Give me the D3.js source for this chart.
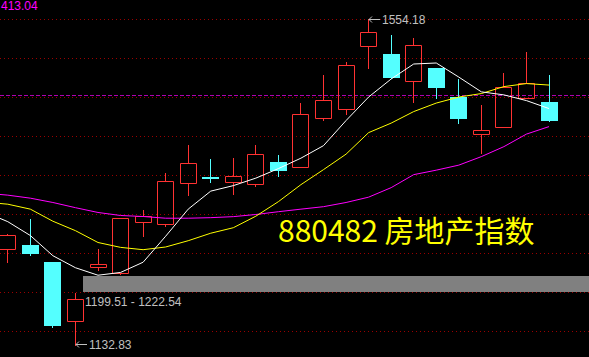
<!DOCTYPE html>
<html>
<head>
<meta charset="utf-8">
<script src="https://cdn.jsdelivr.net/npm/d3@7"></script>
<style>
  html, body { margin: 0; padding: 0; background: #000; }
  svg { display: block; }
</style>
</head>
<body>
<div id="chart"></div>
<script>
// daily candles (left to right)
let opens  = [1257.0, 1262.2, 1240.2, 1163.9, 1234.1, 1226.4, 1292.3, 1289.4, 1342.0, 1350.2, 1343.3, 1340.7, 1369.6,
              1362.7, 1426.9, 1437.8, 1520.0, 1509.3, 1474.8, 1491.6, 1454.0, 1406.2, 1414.5, 1452.8, 1447.2];
let highs  = [1276.4, 1295.8, 1240.2, 1200.1, 1257.0, 1298.0, 1307.5, 1355.3, 1391.6, 1373.5, 1374.7, 1391.6, 1378.6,
              1445.9, 1482.1, 1498.9, 1554.18, 1533.9, 1530.0, 1491.6, 1477.0, 1443.3, 1484.7, 1511.9, 1482.1];
let lows   = [1240.2, 1249.3, 1156.8, 1132.83, 1229.9, 1224.7, 1274.2, 1287.2, 1327.3, 1344.1, 1328.6, 1338.9, 1351.8,
              1362.7, 1424.5, 1432.1, 1491.6, 1478.6, 1447.6, 1452.8, 1420.4, 1381.6, 1414.5, 1452.8, 1422.6];
let closes = [1275.1, 1250.6, 1157.8, 1192.3, 1238.5, 1298.0, 1299.7, 1345.0, 1368.3, 1347.9, 1351.5, 1379.9, 1358.3,
              1431.7, 1449.8, 1495.1, 1537.8, 1478.6, 1520.9, 1464.9, 1425.6, 1411.0, 1466.2, 1471.8, 1422.6];

// moving averages, first value is the day before the first visible candle
let maWhite  = [1304.9, 1292.6, 1274.7, 1248.6, 1233.1, 1223.4, 1227.0, 1240.2, 1273.8, 1308.8, 1332.1, 1339.2, 1348.9,
                1361.2, 1374.7, 1390.9, 1423.3, 1453.7, 1477.0, 1496.4, 1497.7, 1479.5, 1460.4, 1456.5, 1449.1, 1438.8];
let maYellow = [1317.8, 1315.2, 1308.8, 1293.2, 1281.0, 1265.7, 1259.4, 1256.4, 1259.9, 1268.0, 1277.7, 1284.8, 1299.7,
                1318.5, 1340.5, 1359.9, 1379.9, 1407.7, 1420.0, 1434.9, 1445.9, 1453.7, 1458.2, 1467.2, 1471.1, 1469.2];
let maPurple = [1329.5, 1326.9, 1323.0, 1317.4, 1310.7, 1304.5, 1300.6, 1299.3, 1297.1, 1297.1, 1297.8, 1299.1, 1301.9,
                1305.5, 1308.8, 1312.0, 1317.4, 1324.3, 1336.6, 1353.4, 1359.2, 1365.7, 1376.7, 1389.6, 1405.8, 1415.5];

let refLevel = 1456;              // dashed purple level
let band = [1199.51, 1222.54];    // grey price zone
let topValue = '413.04';
let title = '880482 房地产指数';

let width = 589;
let height = 357;
let numFont = '"Liberation Sans", Arial, sans-serif';
let upColor = '#ff3232';
let downColor = '#54ffff';

let svg = d3
    .select('#chart')
    .append('svg')
    .attr('width', width)
    .attr('height', height)
    .style('background', '#000');

let hi = d3.max(highs);
let lo = d3.min(lows);

let xScale = d3.scaleLinear().domain([0, opens.length - 1]).range([7.8, 549]);
let yScale = d3.scaleLinear().domain([lo, hi]).range([345.3, 19.3]);
let px = v => Math.floor(v) + 0.5;

// dotted red grid
let gridY = d3.range(9).map(k => Math.floor(yScale(hi)) + 39 * k + 0.5);
svg.append('g')
    .selectAll('line')
    .data(gridY)
    .enter()
    .append('line')
    .attr('x1', 0)
    .attr('x2', width)
    .attr('y1', d => d)
    .attr('y2', d => d)
    .attr('stroke', '#9a0000')
    .attr('stroke-dasharray', '1,3');

// dashed purple level
svg.append('line')
    .attr('x1', 0)
    .attr('x2', width)
    .attr('y1', px(yScale(refLevel)))
    .attr('y2', px(yScale(refLevel)))
    .attr('stroke', '#b000b0')
    .attr('stroke-dasharray', '4,2');

// grey zone, starting right after the low candle
let lowIdx = lows.indexOf(lo);
let bandLeft = Math.floor(xScale(lowIdx)) + 8;
svg.append('rect')
    .attr('x', bandLeft)
    .attr('y', Math.round(yScale(band[1])))
    .attr('width', width - bandLeft)
    .attr('height', Math.round(yScale(band[0])) - Math.round(yScale(band[1])) - 2)
    .attr('fill', '#808080');

// candles
let candles = opens.map((o, i) => ({ i, o, h: highs[i], l: lows[i], c: closes[i], up: closes[i] >= o }));

let cg = svg.append('g');

candles.forEach(d => {
    let xc = px(xScale(d.i));
    let left = Math.floor(xScale(d.i)) - 8;
    let top = Math.round(yScale(Math.max(d.o, d.c)));
    let bot = Math.round(yScale(Math.min(d.o, d.c)));
    let yh = Math.round(yScale(d.h));
    let yl = Math.round(yScale(d.l));
    if (d.up) {
        // hollow red body: wick above and below, box outline
        cg.append('path')
            .attr('d', `M${xc},${yh} V${top} M${xc},${bot + 1} V${yl + 1}` +
                `M${left + 0.5},${top + 0.5} H${left + 16.5} V${bot + 0.5} H${left + 0.5} Z`)
            .attr('fill', 'none')
            .attr('stroke', upColor)
            .attr('stroke-width', 1);
    } else {
        cg.append('path')
            .attr('d', `M${xc},${yh} V${yl + 1}`)
            .attr('stroke', downColor)
            .attr('stroke-width', 1);
        cg.append('rect')
            .attr('x', left)
            .attr('y', top)
            .attr('width', 17)
            .attr('height', Math.max(2, bot - top))
            .attr('fill', downColor);
    }
});

// moving average lines
let maLine = d3.line()
    .x((d, i) => xScale(i - 1))
    .y(d => yScale(d));

[[maPurple, '#ff00ff'], [maYellow, '#ffff00'], [maWhite, '#ffffff']].forEach(([data, color]) => {
    svg.append('path')
        .attr('d', maLine(data))
        .attr('fill', 'none')
        .attr('stroke', color)
        .attr('stroke-width', 1);
});

// arrow labels for the extremes
function arrowLabel(xa, ya, text) {
    svg.append('path')
        .attr('d', `M${xa + 1},${ya} H${xa + 12} M${xa + 1},${ya} l3,-3 M${xa + 1},${ya} l3,3`)
        .attr('fill', 'none')
        .attr('stroke', '#c0c0c0');
    svg.append('text')
        .attr('x', xa + 14)
        .attr('y', ya + 4.5)
        .attr('font-family', numFont)
        .attr('font-size', 12)
        .attr('fill', '#c0c0c0')
        .text(text);
}

let hiIdx = highs.indexOf(hi);
arrowLabel(Math.floor(xScale(hiIdx)), px(yScale(hi)), hi.toFixed(2));
arrowLabel(Math.floor(xScale(lowIdx)), px(yScale(lo)) - 1, lo.toFixed(2));

svg.append('text')
    .attr('x', bandLeft + 2)
    .attr('y', yScale(highs[lowIdx]) + 12.5)
    .attr('font-family', numFont)
    .attr('font-size', 12)
    .attr('fill', '#c0c0c0')
    .text(`${band[0].toFixed(2)} - ${band[1].toFixed(2)}`);

svg.append('text')
    .attr('x', 1)
    .attr('y', 9.5)
    .attr('font-family', numFont)
    .attr('font-size', 12)
    .attr('fill', '#ff00ff')
    .text(topValue);

svg.append('text')
    .attr('x', 278)
    .attr('y', 241.5)
    .attr('font-family', '"Noto Sans CJK SC", sans-serif')
    .attr('font-size', 30)
    .attr('fill', '#ffff00')
    .text(title);
</script>
</body>
</html>
